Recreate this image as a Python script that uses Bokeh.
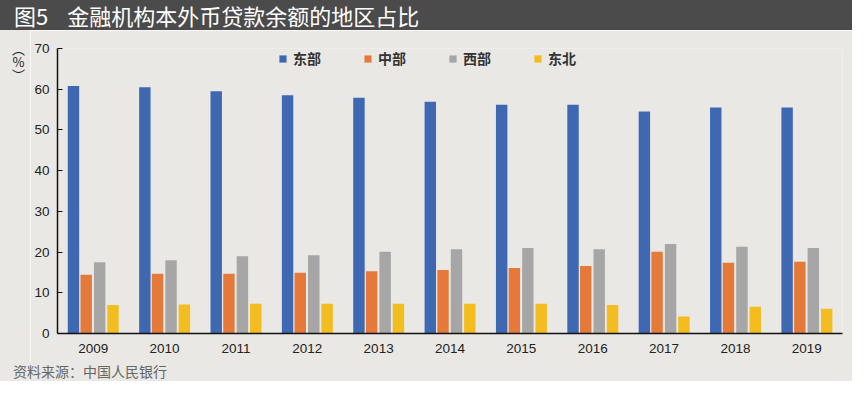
from bokeh.plotting import figure
from bokeh.models import FactorRange, Range1d, Legend, LegendItem, FixedTicker, ColumnDataSource, Div
from bokeh.transform import dodge
from bokeh.layouts import column, row
from bokeh.embed import file_html
from bokeh.resources import INLINE

years = ["2009", "2010", "2011", "2012", "2013", "2014", "2015", "2016", "2017", "2018", "2019"]
east = [60.8, 60.5, 59.5, 58.5, 57.9, 56.9, 56.2, 56.2, 54.5, 55.5, 55.5]
central = [14.4, 14.7, 14.7, 14.9, 15.3, 15.6, 16.1, 16.6, 20.1, 17.4, 17.6]
west = [17.5, 18.0, 19.0, 19.2, 20.1, 20.7, 21.0, 20.7, 22.0, 21.3, 21.0]
northeast = [7.0, 7.1, 7.3, 7.3, 7.3, 7.3, 7.3, 7.0, 4.2, 6.6, 6.1]
series_names = ["东部", "中部", "西部", "东北"]
y_ticks = [0, 10, 20, 30, 40, 50, 60, 70]

title_prefix = "图5"
title_text = "金融机构本外币贷款余额的地区占比"
y_unit = "（%）"
source_text = "资料来源：中国人民银行"

BG = "#e9e8e4"
DARK = "#4b4b4b"
colors = ["#3e68b2", "#e4793a", "#a6a6a6", "#f3bd1f"]
offsets = [-0.276, -0.098, 0.091, 0.278]
CJK = "Noto Sans CJK SC"
LAT = "Liberation Sans"

# ---- title bar ----
title_html = (
    f'<div style="width:852px;height:30px;background:{DARK};color:#ffffff;'
    f"font-family:'{CJK}';font-size:22px;line-height:30px;padding-left:14px;"
    f'box-sizing:border-box;white-space:nowrap;">'
    f'<span>{title_prefix}</span><span style="margin-left:19px;">{title_text}</span></div>'
)
t = Div(text=title_html, width=852, height=30, margin=0)

# ---- unit label at left (vertical text) ----
unit_html = (
    f'<div style="position:relative;width:30px;height:332px;background:{BG};">'
    f'<div style="position:absolute;left:11px;top:13px;color:#222222;'
    f"font-family:'{CJK}';font-size:13px;line-height:14px;"
    f'writing-mode:vertical-rl;text-orientation:upright;">{y_unit}</div></div>'
)
u = Div(text=unit_html, width=30, height=332, margin=0)

# ---- main chart ----
src = ColumnDataSource(dict(year=years, east=east, central=central, west=west, northeast=northeast))

p = figure(x_range=FactorRange(*years, range_padding=0), y_range=Range1d(0, 70),
           width=822, height=332, output_backend="svg", toolbar_location=None,
           min_border_left=27, min_border_right=10, min_border_top=18, min_border_bottom=29,
           background_fill_color=BG, border_fill_color=BG, outline_line_color=None)

renderers = []
for key, col, off in zip(["east", "central", "west", "northeast"], colors, offsets):
    r = p.vbar(x=dodge("year", off, range=p.x_range), top=key, width=0.16, source=src,
               fill_color=col, line_color=None)
    renderers.append(r)

p.xgrid.grid_line_color = None
p.ygrid.grid_line_color = None

p.yaxis.ticker = FixedTicker(ticks=y_ticks)
p.yaxis.minor_tick_line_color = None
p.yaxis.major_tick_in = 5
p.yaxis.major_tick_out = 0
p.yaxis.major_tick_line_color = "#111111"
p.yaxis.axis_line_color = "#111111"
p.yaxis.axis_line_width = 1.5
p.yaxis.major_label_standoff = 8
p.yaxis.major_label_text_font = LAT
p.yaxis.major_label_text_font_size = "13.5px"
p.yaxis.major_label_text_color = "#222222"

p.xaxis.major_tick_line_color = None
p.xaxis.minor_tick_line_color = None
p.xaxis.axis_line_color = "#111111"
p.xaxis.axis_line_width = 1.5
p.xaxis.major_label_standoff = 4
p.xaxis.major_label_text_font = LAT
p.xaxis.major_label_text_font_size = "13.5px"
p.xaxis.major_label_text_color = "#222222"

legend = Legend(items=[LegendItem(label=n, renderers=[r]) for n, r in zip(series_names, renderers)],
                orientation="horizontal", location=(221, 263), padding=0, margin=0,
                spacing=42, glyph_width=9, glyph_height=9, label_standoff=6, label_height=24,
                label_text_font=CJK, label_text_font_size="14px", label_text_font_style="bold",
                label_text_color="#333333", background_fill_alpha=0, border_line_color=None)
p.add_layout(legend)

# ---- source line ----
source_html = (
    f'<div style="width:852px;height:19px;background:{BG};color:#666666;'
    f"font-family:'{CJK}';font-size:14px;line-height:19px;padding-left:13px;"
    f'box-sizing:border-box;white-space:nowrap;">{source_text}</div>'
)
s = Div(text=source_html, width=852, height=19, margin=0)

layout = column(t, row(u, p, spacing=0), s, spacing=0)
open("out.html", "w").write(file_html(layout, INLINE))
